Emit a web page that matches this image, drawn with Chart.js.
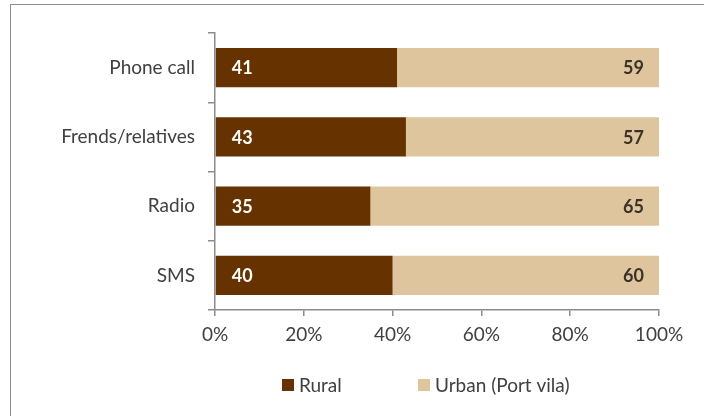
<!DOCTYPE html>
<html>
<head>
<meta charset="utf-8">
<script src="https://cdn.jsdelivr.net/npm/chart.js@4.4.1/dist/chart.umd.min.js"></script>
<style>
  html, body { margin: 0; padding: 0; background: #fff; }
  #wrap { position: relative; width: 704px; height: 416px; overflow: hidden; }
  #frame {
    position: absolute; left: 10px; top: 4px; width: 720px; height: 440px;
    border-left: 1.5px solid #8c8c8c; border-top: 1.5px solid #8c8c8c;
  }
  canvas { position: absolute; left: 0; top: 0; }
</style>
</head>
<body>
<div id="wrap">
  <div id="frame"></div>
  <canvas id="barChart" width="704" height="416"></canvas>
</div>
<script>
// categories and shares (%)
var categorias = ['Phone call', 'Frends/relatives', 'Radio', 'SMS'];
var rural = [41, 43, 35, 40];
var urbano = [59, 57, 65, 60];
var rotulosSeries = ['Rural', 'Urban (Port vila)'];
var coresSeries = ['#663300', '#dfc59e'];
var ticksX = [0, 20, 40, 60, 80, 100];

var fonte = 'Lato, "Open Sans", sans-serif';
var corTexto = '#404040';
var corEixo = '#8c8c8c';

// value labels inside each bar segment
var rotulosValores = {
    id: 'rotulosValores',
    afterDatasetsDraw: function (chart) {
        var ctx = chart.ctx;
        ctx.save();
        ctx.font = 'bold 18px ' + fonte;
        ctx.textBaseline = 'middle';
        chart.data.datasets.forEach(function (ds, i) {
            var meta = chart.getDatasetMeta(i);
            meta.data.forEach(function (bar, j) {
                var valor = ds.data[j];
                if (i === 0) {
                    ctx.fillStyle = '#ffffff';
                    ctx.textAlign = 'left';
                    ctx.fillText(valor, bar.base + 16, bar.y + 1);
                } else {
                    ctx.fillStyle = '#3a3228';
                    ctx.textAlign = 'right';
                    ctx.fillText(valor, bar.x - 15, bar.y + 1);
                }
            });
        });
        ctx.restore();
    }
};

// legend drawn under the axis
var legendaManual = {
    id: 'legendaManual',
    afterDraw: function (chart) {
        var ctx = chart.ctx;
        var y = 385;
        var xs = [282, 418];
        ctx.save();
        ctx.font = '19px ' + fonte;
        ctx.textBaseline = 'middle';
        ctx.textAlign = 'left';
        chart.data.datasets.forEach(function (ds, i) {
            ctx.fillStyle = ds.backgroundColor;
            ctx.fillRect(xs[i], y - 6, 12, 12);
            ctx.fillStyle = corTexto;
            ctx.fillText(ds.label, xs[i] + 17, y + 1);
        });
        ctx.restore();
    }
};

var barCtx = document.getElementById('barChart').getContext('2d');

var barChart = new Chart(barCtx, {
    type: 'bar',
    data: {
        labels: categorias,
        datasets: [{
            label: rotulosSeries[0],
            backgroundColor: coresSeries[0],
            data: rural
        }, {
            label: rotulosSeries[1],
            backgroundColor: coresSeries[1],
            data: urbano
        }]
    },
    options: {
        indexAxis: 'y',
        responsive: false,
        animation: false,
        devicePixelRatio: 1,
        barPercentage: 0.565,
        categoryPercentage: 1,
        layout: { padding: { top: 33, right: 45, left: 0, bottom: 50 } },
        plugins: {
            legend: { display: false },
            tooltip: { enabled: false }
        },
        scales: {
            x: {
                stacked: true,
                min: 0,
                max: 100,
                afterBuildTicks: function (scale) {
                    scale.ticks = ticksX.map(function (v) { return { value: v }; });
                },
                afterFit: function (scale) { scale.height = 56; },
                ticks: {
                    callback: function (v) { return v + '%'; },
                    color: corTexto,
                    font: { family: fonte, size: 19 },
                    padding: 7,
                    maxRotation: 0
                },
                grid: { drawOnChartArea: false, color: corEixo, tickLength: 6, lineWidth: 1.5 },
                border: { color: corEixo, width: 1.5 }
            },
            y: {
                stacked: true,
                afterFit: function (scale) { scale.width = 215; },
                ticks: {
                    color: corTexto,
                    font: { family: fonte, size: 19 },
                    padding: 13
                },
                grid: { offset: true, drawOnChartArea: false, color: corEixo, tickLength: 7, lineWidth: 1.5 },
                border: { color: corEixo, width: 1.5 }
            }
        }
    },
    plugins: [rotulosValores, legendaManual]
});
</script>
</body>
</html>
